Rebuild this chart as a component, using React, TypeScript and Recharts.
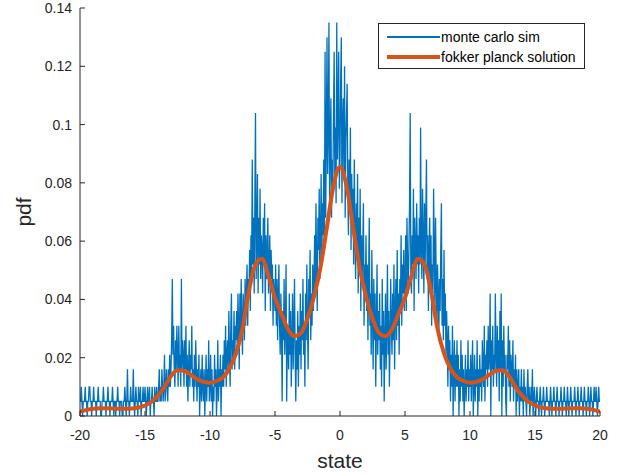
import React from "react";
import { LineChart, Line, XAxis, YAxis, Legend, Label } from "recharts";

// histogram of the monte carlo run, one value per bin, bins from -20 to 20 every 0.05
// (each block of two lines covers one unit of state)
const mcStart = -20;
const mcStep = 0.05;
const mcPdf = [
  // -20
  0.005, 0.005, 0.010, 0.005, 0, 0.005, 0.005, 0.005, 0.010, 0.005,
  0.005, 0, 0.005, 0.005, 0.010, 0.010, 0.005, 0.005, 0, 0.005,
  // -19
  0.005, 0.010, 0.005, 0.005, 0.005, 0, 0.005, 0.005, 0.010, 0.005,
  0.005, 0.005, 0, 0, 0.005, 0.005, 0.010, 0.005, 0.005, 0.005,
  // -18
  0, 0.005, 0.005, 0.010, 0.005, 0.005, 0, 0.005, 0.005, 0.005,
  0.010, 0.005, 0, 0.005, 0.005, 0, 0.005, 0.005, 0.010, 0.005,
  // -17
  0.005, 0, 0.005, 0.005, 0.005, 0, 0, 0.005, 0.005, 0.010,
  0.005, 0, 0.005, 0.016, 0.005, 0.005, 0, 0.005, 0.010, 0.005,
  // -16
  0.005, 0.005, 0.016, 0.005, 0, 0.005, 0.010, 0.005, 0.005, 0,
  0.010, 0.005, 0.005, 0.010, 0, 0.005, 0.005, 0.010, 0.005, 0.005,
  // -15
  0.010, 0.005, 0, 0.005, 0.010, 0.005, 0.005, 0.010, 0, 0.005,
  0.005, 0.010, 0.005, 0.005, 0, 0.010, 0.005, 0.005, 0.010, 0.005,
  // -14
  0.005, 0.010, 0.016, 0.005, 0.010, 0.005, 0.016, 0.010, 0.005, 0.010,
  0.021, 0.005, 0.010, 0.016, 0.010, 0.005, 0.016, 0.010, 0.021, 0.010,
  // -13
  0.016, 0.026, 0.047, 0.021, 0.031, 0.016, 0.010, 0.026, 0.016, 0.031,
  0.021, 0.010, 0.031, 0.016, 0.021, 0.010, 0.047, 0.016, 0.026, 0.021,
  // -12
  0.010, 0.026, 0.016, 0.031, 0.010, 0.021, 0.005, 0.016, 0.026, 0.010,
  0.021, 0.016, 0.031, 0.010, 0.016, 0.005, 0.021, 0.010, 0.026, 0.016,
  // -11
  0.005, 0.016, 0.010, 0.021, 0, 0.010, 0.016, 0.005, 0.021, 0.010,
  0.005, 0.016, 0, 0.010, 0.021, 0.005, 0.016, 0.010, 0.026, 0.005,
  // -10
  0.010, 0.021, 0.005, 0.016, 0, 0.010, 0.005, 0.021, 0.010, 0.016,
  0, 0.010, 0.026, 0.005, 0.016, 0.010, 0.021, 0, 0.016, 0.010,
  // -9
  0.021, 0.010, 0.026, 0.016, 0.031, 0.010, 0.021, 0.026, 0.016, 0.036,
  0.021, 0.010, 0.031, 0.042, 0.016, 0.026, 0.021, 0.036, 0.016, 0.031,
  // -8
  0.026, 0.036, 0.021, 0.042, 0.031, 0.016, 0.042, 0.026, 0.047, 0.031,
  0.021, 0.042, 0.036, 0.026, 0.047, 0.031, 0.042, 0.052, 0.031, 0.047,
  // -7
  0.042, 0.057, 0.036, 0.062, 0.047, 0.088, 0.052, 0.068, 0.042, 0.073,
  0.104, 0.047, 0.062, 0.083, 0.042, 0.068, 0.052, 0.078, 0.047, 0.062,
  // -6
  0.057, 0.042, 0.068, 0.052, 0.073, 0.036, 0.062, 0.047, 0.057, 0.068,
  0.042, 0.052, 0.062, 0.036, 0.057, 0.047, 0.052, 0.031, 0.047, 0.042,
  // -5
  0.036, 0.052, 0.031, 0.047, 0.026, 0.042, 0.052, 0.031, 0.021, 0.042,
  0.031, 0.005, 0.036, 0.026, 0.047, 0.021, 0.031, 0.052, 0.005, 0.026,
  // -4
  0.031, 0.016, 0.042, 0.021, 0.036, 0.010, 0.026, 0.042, 0.016, 0.031,
  0.047, 0.021, 0.005, 0.026, 0.016, 0.036, 0.010, 0.031, 0.021, 0.042,
  // -3
  0.016, 0.036, 0.026, 0.047, 0.021, 0.031, 0.010, 0.042, 0.026, 0.052,
  0.031, 0.016, 0.047, 0.036, 0.057, 0.026, 0.042, 0.031, 0.052, 0.036,
  // -2
  0.047, 0.062, 0.042, 0.073, 0.052, 0.036, 0.068, 0.057, 0.078, 0.047,
  0.062, 0.083, 0.052, 0.073, 0.062, 0.088, 0.057, 0.125, 0.068, 0.094,
  // -1
  0.130, 0.083, 0.099, 0.135, 0.073, 0.094, 0.109, 0.068, 0.088, 0.078,
  0.104, 0.125, 0.083, 0.099, 0.073, 0.135, 0.088, 0.104, 0.125, 0.078,
  // 0
  0.088, 0.114, 0.130, 0.073, 0.099, 0.109, 0.083, 0.120, 0.068, 0.094,
  0.104, 0.114, 0.078, 0.062, 0.088, 0.073, 0.099, 0.057, 0.083, 0.068,
  // 1
  0.078, 0.052, 0.088, 0.062, 0.047, 0.073, 0.057, 0.083, 0.042, 0.068,
  0.052, 0.078, 0.036, 0.062, 0.047, 0.057, 0.073, 0.031, 0.052, 0.042,
  // 2
  0.062, 0.036, 0.052, 0.026, 0.047, 0.068, 0.031, 0.042, 0.021, 0.057,
  0.036, 0.016, 0.047, 0.026, 0.042, 0.010, 0.031, 0.052, 0.021, 0.036,
  // 3
  0.026, 0.042, 0.016, 0.031, 0.010, 0.047, 0.021, 0.036, 0.005, 0.026,
  0.042, 0.016, 0.031, 0.052, 0.021, 0.036, 0.010, 0.026, 0.047, 0.031,
  // 4
  0.021, 0.042, 0.026, 0.052, 0.016, 0.036, 0.047, 0.026, 0.057, 0.031,
  0.042, 0.021, 0.047, 0.036, 0.062, 0.031, 0.052, 0.042, 0.057, 0.036,
  // 5
  0.047, 0.062, 0.036, 0.068, 0.052, 0.042, 0.057, 0.073, 0.104, 0.047,
  0.042, 0.062, 0.052, 0.078, 0.036, 0.068, 0.057, 0.047, 0.073, 0.052,
  // 6
  0.062, 0.042, 0.068, 0.052, 0.099, 0.057, 0.047, 0.078, 0.062, 0.042,
  0.073, 0.052, 0.068, 0.088, 0.047, 0.062, 0.036, 0.057, 0.068, 0.042,
  // 7
  0.062, 0.031, 0.052, 0.042, 0.078, 0.057, 0.036, 0.068, 0.047, 0.031,
  0.052, 0.042, 0.026, 0.047, 0.036, 0.057, 0.073, 0.031, 0.047, 0.026,
  // 8
  0.057, 0.031, 0.042, 0.021, 0.036, 0.026, 0.010, 0.031, 0.016, 0.026,
  0.005, 0.021, 0.010, 0.031, 0, 0.016, 0.026, 0.005, 0.021, 0.010,
  // 9
  0.026, 0.010, 0.021, 0, 0.016, 0.005, 0.026, 0.010, 0.021, 0.005,
  0.016, 0, 0.010, 0.021, 0.005, 0.016, 0.010, 0.026, 0.005, 0.016,
  // 10
  0.010, 0.021, 0.005, 0.016, 0.026, 0, 0.010, 0.021, 0.005, 0.016,
  0.010, 0.026, 0, 0.016, 0.005, 0.021, 0.010, 0.016, 0.005, 0.026,
  // 11
  0.016, 0.010, 0.031, 0.005, 0.021, 0.016, 0.026, 0.010, 0.031, 0.016,
  0.021, 0.042, 0, 0.026, 0.016, 0.031, 0.010, 0.021, 0.016, 0.042,
  // 12
  0.021, 0.010, 0.031, 0.016, 0.026, 0.005, 0.036, 0.016, 0.042, 0,
  0.026, 0.010, 0.031, 0.016, 0.021, 0.005, 0, 0.021, 0.016, 0.031,
  // 13
  0.010, 0.026, 0.005, 0.021, 0.016, 0.010, 0.026, 0.005, 0.016, 0.010,
  0.021, 0, 0.016, 0.005, 0.010, 0.016, 0, 0.010, 0.005, 0.016,
  // 14
  0.005, 0.010, 0, 0.016, 0.005, 0.010, 0.005, 0, 0.010, 0.016,
  0.005, 0.010, 0, 0.005, 0.010, 0.005, 0.016, 0, 0.005, 0.010,
  // 15
  0.005, 0, 0.005, 0.010, 0.005, 0.005, 0, 0.005, 0.010, 0.005,
  0, 0.005, 0.005, 0.010, 0.005, 0, 0.005, 0.005, 0.010, 0.005,
  // 16
  0.005, 0.005, 0, 0.005, 0.010, 0.005, 0, 0.005, 0.005, 0.010,
  0.005, 0.005, 0, 0.005, 0.010, 0.005, 0.005, 0, 0.005, 0.005,
  // 17
  0.010, 0.005, 0, 0.005, 0.005, 0.010, 0.005, 0.005, 0, 0.005,
  0.010, 0.005, 0, 0.005, 0.005, 0.010, 0.005, 0, 0.005, 0.005,
  // 18
  0.005, 0.010, 0.005, 0, 0.005, 0.005, 0.010, 0.005, 0, 0.005,
  0.005, 0.010, 0.005, 0.005, 0, 0.005, 0.010, 0.005, 0.005, 0,
  // 19
  0.005, 0.005, 0.010, 0.005, 0, 0.005, 0.010, 0.005, 0.005, 0,
  0.005, 0.010, 0.005, 0.005, 0.010, 0.005, 0, 0.005, 0.010, 0.005,
  // 20
  0.005,
];

// fokker planck solution, sampled every 0.5 from -20 to 20
const fpStart = -20;
const fpStep = 0.5;
const fpPdf = [
  0.0015, 0.0021, 0.0025, 0.0027, 0.0027, 0.0026, 0.0025, 0.0025, 0.0026, 0.0029,
  0.0036, 0.0049, 0.0070, 0.0100, 0.0137, 0.0157, 0.0155, 0.0142, 0.0127, 0.0117,
  0.0114, 0.0120, 0.0133, 0.0163, 0.0215, 0.0300, 0.0430, 0.0520, 0.0540, 0.0480,
  0.0405, 0.0350, 0.0298, 0.0274, 0.0285, 0.0335, 0.0410, 0.0510, 0.0650, 0.0790,
  0.0855,
  0.0790, 0.0650, 0.0510, 0.0410, 0.0335, 0.0285, 0.0274, 0.0298, 0.0350, 0.0405,
  0.0480, 0.0540, 0.0520, 0.0430, 0.0300, 0.0215, 0.0163, 0.0133, 0.0120, 0.0114,
  0.0117, 0.0127, 0.0142, 0.0155, 0.0157, 0.0137, 0.0100, 0.0070, 0.0049, 0.0036,
  0.0029, 0.0026, 0.0025, 0.0025, 0.0026, 0.0027, 0.0027, 0.0025, 0.0021, 0.0015,
];

const xTicks = [-20, -15, -10, -5, 0, 5, 10, 15, 20];
const yTicks = [0, 0.02, 0.04, 0.06, 0.08, 0.1, 0.12, 0.14];

const mcData = mcPdf.map((pdf, i) => ({ state: +(mcStart + i * mcStep).toFixed(2), pdf }));
const fpData = fpPdf.map((pdf, i) => ({ state: fpStart + i * fpStep, pdf }));

const axisColor = "#262626";
const font = "'Liberation Sans', Arial, Helvetica, sans-serif";
const tickStyle = { fontSize: 14, fill: axisColor, fontFamily: font };

const mcName = "monte carlo sim";
const fpName = "fokker planck solution";
const legendOrder = [mcName, fpName];
const legendWidths: Record<string, number> = { [mcName]: 1.3, [fpName]: 4 };

const LegendBox = ({ payload }: any) => {
  const items = [...(payload || [])].sort(
    (a: any, b: any) => legendOrder.indexOf(a.value) - legendOrder.indexOf(b.value)
  );
  return (
    <div
      style={{
        border: `1px solid ${axisColor}`,
        background: "#fff",
        width: 207,
        height: 46,
        boxSizing: "border-box",
        paddingTop: 3,
        fontFamily: font,
      }}
    >
      {items.map((entry: any) => (
        <div key={entry.value} style={{ display: "flex", alignItems: "center", height: 20 }}>
          <span
            style={{
              display: "inline-block",
              marginLeft: 8,
              width: 53,
              height: legendWidths[entry.value],
              background: entry.color,
            }}
          />
          <span style={{ marginLeft: 1, fontSize: 14, color: "#000", whiteSpace: "nowrap" }}>
            {entry.value}
          </span>
        </div>
      ))}
    </div>
  );
};

export default function App() {
  return (
    <div style={{ position: "absolute", left: 0, top: 0, background: "#fff" }}>
      <LineChart width={630} height={475} margin={{ top: 8, right: 30, bottom: 0, left: 0 }}>
        <XAxis
          xAxisId="b"
          type="number"
          dataKey="state"
          domain={[-20, 20]}
          ticks={xTicks}
          allowDataOverflow
          height={59}
          tickSize={-5}
          tickMargin={19}
          stroke={axisColor}
          tick={tickStyle}
        >
          <Label
            value="state"
            position="insideBottom"
            offset={7}
            style={{ fontSize: 21, fill: axisColor, fontFamily: font }}
          />
        </XAxis>
        <XAxis
          xAxisId="t"
          orientation="top"
          type="number"
          dataKey="state"
          domain={[-20, 20]}
          ticks={xTicks}
          height={0}
          tickSize={-5}
          tick={false}
          stroke={axisColor}
        />
        <YAxis
          yAxisId="l"
          type="number"
          domain={[0, 0.14]}
          ticks={yTicks}
          allowDataOverflow
          width={80}
          tickSize={-5}
          tickMargin={13}
          stroke={axisColor}
          tick={tickStyle}
          tickFormatter={(v: number) => String(Number(v.toFixed(2)))}
        >
          <Label
            content={() => (
              <text
                x={31}
                y={212}
                transform="rotate(-90 31 212)"
                textAnchor="middle"
                fontSize={21}
                fill={axisColor}
                fontFamily={font}
              >
                pdf
              </text>
            )}
          />
        </YAxis>
        <YAxis
          yAxisId="r"
          orientation="right"
          type="number"
          domain={[0, 0.14]}
          ticks={yTicks}
          width={0}
          tickSize={-5}
          tick={false}
          stroke={axisColor}
        />
        <Line
          xAxisId="b"
          yAxisId="l"
          data={mcData}
          dataKey="pdf"
          name={mcName}
          type="linear"
          stroke="#0072BD"
          strokeWidth={1.3}
          dot={false}
          isAnimationActive={false}
        />
        <Line
          xAxisId="b"
          yAxisId="l"
          data={fpData}
          dataKey="pdf"
          name={fpName}
          type="monotone"
          stroke="#D95319"
          strokeWidth={4}
          dot={false}
          isAnimationActive={false}
        />
        <Legend
          layout="vertical"
          align="center"
          verticalAlign="middle"
          content={(props: any) => <LegendBox {...props} />}
          wrapperStyle={{ left: 378, top: 23, width: 207, height: 46 }}
        />
      </LineChart>
    </div>
  );
}
